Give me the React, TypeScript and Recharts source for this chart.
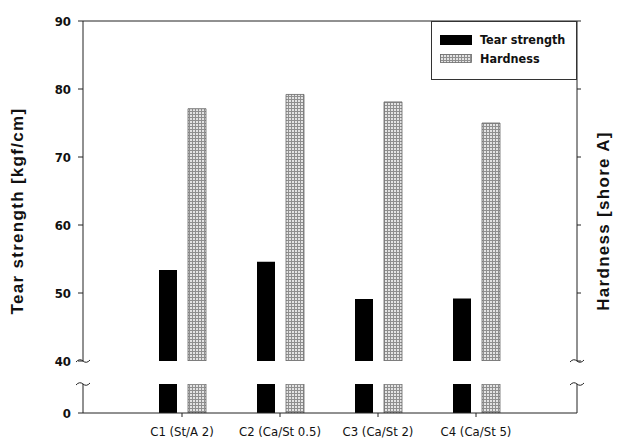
import { Bar, BarChart, ReferenceLine, XAxis, YAxis } from "recharts"

const categories = ["C1 (St/A 2)", "C2 (Ca/St 0.5)", "C3 (Ca/St 2)", "C4 (Ca/St 5)"]
const tearStrength = [53.4, 54.6, 49.1, 49.2]
const hardness = [77.1, 79.2, 78.1, 75.0]
const upperTicks = [40, 50, 60, 70, 80, 90]
const lowerTicks = [0]

const data = categories.map((name, i) => ({ name, tear: tearStrength[i], hardness: hardness[i] }))

const narrow = "'DejaVu Sans Condensed', 'Liberation Sans Narrow', 'Liberation Sans', Arial, sans-serif"
const tickStyle = { fontFamily: narrow, fontWeight: 700, fontSize: 13, fill: "#111" }
const xPad = { left: 50, right: 52 }
const margin = { left: 82, right: 44 }

const Pattern = ({ id }: { id: string }) => (
	<defs>
		<pattern id={id} width="3" height="3" patternUnits="userSpaceOnUse">
			<rect width="3" height="3" fill="#e4e4e4" />
			<path d="M0 0.5 H3 M0.5 0 V3" stroke="#8f8f8f" strokeWidth="1" />
		</pattern>
	</defs>
)

const LegendBox = () => (
	<div style={{ position: "absolute", left: 431, top: 21, width: 146, height: 59, border: "1px solid #333", boxSizing: "border-box", background: "#fff", fontFamily: narrow, fontWeight: 700, fontSize: 12.5, color: "#111" }}>
		<div style={{ display: "flex", alignItems: "center", marginTop: 12, marginLeft: 8, height: 11 }}>
			<svg width="32" height="10"><rect width="32" height="10" fill="#000" /></svg>
			<span style={{ marginLeft: 8 }}>Tear strength</span>
		</div>
		<div style={{ display: "flex", alignItems: "center", marginTop: 8, marginLeft: 8, height: 11 }}>
			<svg width="32" height="9"><rect x="0.5" y="0.5" width="31" height="8" fill="url(#hatchUp)" stroke="#666" strokeWidth="0.8" /></svg>
			<span style={{ marginLeft: 8 }}>Hardness</span>
		</div>
	</div>
)

// little "~" marks where the axis is broken
const breaks = [
	{ x: 83, y: 361 }, { x: 83, y: 384 },
	{ x: 577, y: 361 }, { x: 577, y: 384 },
]

export default function App() {
	const titleStyle = { position: "absolute" as const, fontFamily: "'Liberation Sans', Arial, sans-serif", fontWeight: 700, fontSize: 17, letterSpacing: 1.3, color: "#111", whiteSpace: "nowrap" as const }

	return (
		<div style={{ position: "absolute", left: 0, top: 0, width: 622, height: 444, background: "#fff" }}>
			<div style={{ position: "absolute", left: 0, top: 0 }}>
				<BarChart width={622} height={370} data={data} margin={{ top: 21, bottom: 9, ...margin }} barGap={11}>
					<Pattern id="hatchUp" />
					<XAxis dataKey="name" hide padding={xPad} />
					<YAxis yAxisId="left" domain={[40, 90]} ticks={upperTicks} allowDataOverflow width={1}
						stroke="#222" tickSize={5} tickMargin={7} tick={tickStyle} interval={0} />
					<YAxis yAxisId="right" orientation="right" domain={[40, 90]} ticks={upperTicks} allowDataOverflow width={1}
						stroke="#222" tickSize={4} tickFormatter={() => ""} interval={0} />
					<ReferenceLine yAxisId="left" y={90} stroke="#222" />
					<Bar yAxisId="left" dataKey="tear" name="Tear strength" fill="#000" barSize={18} isAnimationActive={false} />
					<Bar yAxisId="right" dataKey="hardness" name="Hardness" fill="url(#hatchUp)" stroke="#666" strokeWidth={0.8} barSize={18} isAnimationActive={false} />
				</BarChart>
			</div>
			<div style={{ position: "absolute", left: 0, top: 0 }}>
				<BarChart width={622} height={444} data={data} margin={{ top: 384, bottom: 0, ...margin }} barGap={11}>
					<Pattern id="hatchLow" />
					<XAxis dataKey="name" padding={xPad} stroke="#222" tickSize={4} height={31} tickMargin={10}
						tick={{ fontFamily: narrow, fontSize: 13, fill: "#111" }} interval={0} />
					<YAxis yAxisId="left" domain={[0, 4]} ticks={lowerTicks} allowDataOverflow width={1}
						stroke="#222" tickSize={5} tickMargin={7} tick={tickStyle} />
					<YAxis yAxisId="right" orientation="right" domain={[0, 4]} ticks={lowerTicks} allowDataOverflow width={1}
						stroke="#222" tickSize={0} tickFormatter={() => ""} />
					<Bar yAxisId="left" dataKey="tear" fill="#000" barSize={18} isAnimationActive={false} />
					<Bar yAxisId="right" dataKey="hardness" fill="url(#hatchLow)" stroke="#666" strokeWidth={0.8} barSize={18} isAnimationActive={false} />
				</BarChart>
			</div>
			<LegendBox />
			<svg width={622} height={444} style={{ position: "absolute", left: 0, top: 0, pointerEvents: "none" }}>
				{breaks.map((b, i) => (
					<path key={i} d={`M${b.x - 7} ${b.y + 1} Q${b.x - 3.5} ${b.y - 3} ${b.x} ${b.y} T${b.x + 7} ${b.y - 1}`}
						fill="none" stroke="#222" strokeWidth={1} />
				))}
			</svg>
			<div style={{ ...titleStyle, left: 18, top: 211, transform: "translate(-50%, -50%) rotate(-90deg)" }}>Tear strength [kgf/cm]</div>
			<div style={{ ...titleStyle, left: 604, top: 221, transform: "translate(-50%, -50%) rotate(-90deg)" }}>Hardness [shore A]</div>
		</div>
	)
}
